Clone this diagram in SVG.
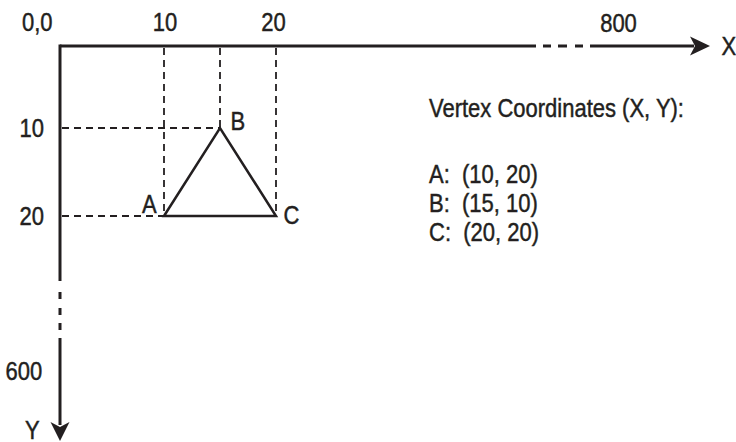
<svg xmlns="http://www.w3.org/2000/svg" width="736" height="442" viewBox="0 0 736 442">
<style>
text{font-family:"Liberation Sans",Arial,sans-serif;font-size:25px;fill:#231f20;stroke:#231f20;stroke-width:0.45}
.ax{stroke:#231f20;stroke-width:3;fill:none}
.dash{stroke:#231f20;stroke-width:1.8;stroke-dasharray:7,5;fill:none}
.tri{stroke:#231f20;stroke-width:2.5;fill:none;stroke-linejoin:miter}
.head{fill:#231f20}
</style>
<rect width="736" height="442" fill="#fff"/>
<g id="connectors">
<path class="ax" d="M60,46 H536"/>
<path class="ax" d="M543,46 H551 M558,46 H567 M575,46 H583"/>
<path class="ax" d="M590,46 H694"/>
<path class="head" d="M710,46 L690,36.5 L695,46 L690,55.5 Z"/>
<path class="ax" d="M60,44.5 V281"/>
<path class="ax" d="M60,292 V299 M60,308 V315 M60,323 V330"/>
<path class="ax" d="M60,338 V425"/>
<path class="head" d="M60,441 L50.5,422 L60,427 L69.5,422 Z"/>
<path class="dash" d="M164,48 V216"/>
<path class="dash" d="M220,48 V128"/>
<path class="dash" d="M276,48 V216"/>
<path class="dash" d="M62,128 H220"/>
<path class="dash" d="M62,216 H164"/>
</g>
<g id="triangle">
<path class="tri" d="M164,216 L220,128 L276,216 Z"/>
</g>
<g id="labels">
<text transform="translate(22,31) scale(0.88,1)">0,0</text>
<text transform="translate(165,31) scale(0.88,1)" text-anchor="middle">10</text>
<text transform="translate(273.5,31) scale(0.88,1)" text-anchor="middle">20</text>
<text transform="translate(618.5,32) scale(0.88,1)" text-anchor="middle">800</text>
<text transform="translate(721.5,55) scale(0.88,1)">X</text>
<text transform="translate(19.5,137) scale(0.88,1)">10</text>
<text transform="translate(19.5,225) scale(0.88,1)">20</text>
<text transform="translate(5.5,380) scale(0.88,1)">600</text>
<text transform="translate(25,439) scale(0.88,1)">Y</text>
<text transform="translate(230.5,130) scale(0.88,1)">B</text>
<text transform="translate(142,213) scale(0.88,1)">A</text>
<text transform="translate(283.5,224) scale(0.88,1)">C</text>
</g>
<g id="legend">
<text transform="translate(429,117) scale(0.88,1)">Vertex Coordinates (X, Y):</text>
<text transform="translate(429,183) scale(0.88,1)" xml:space="preserve">A:  (10, 20)</text>
<text transform="translate(429,212) scale(0.88,1)" xml:space="preserve">B:  (15, 10)</text>
<text transform="translate(429,241) scale(0.88,1)" xml:space="preserve">C:  (20, 20)</text>
</g>
</svg>
